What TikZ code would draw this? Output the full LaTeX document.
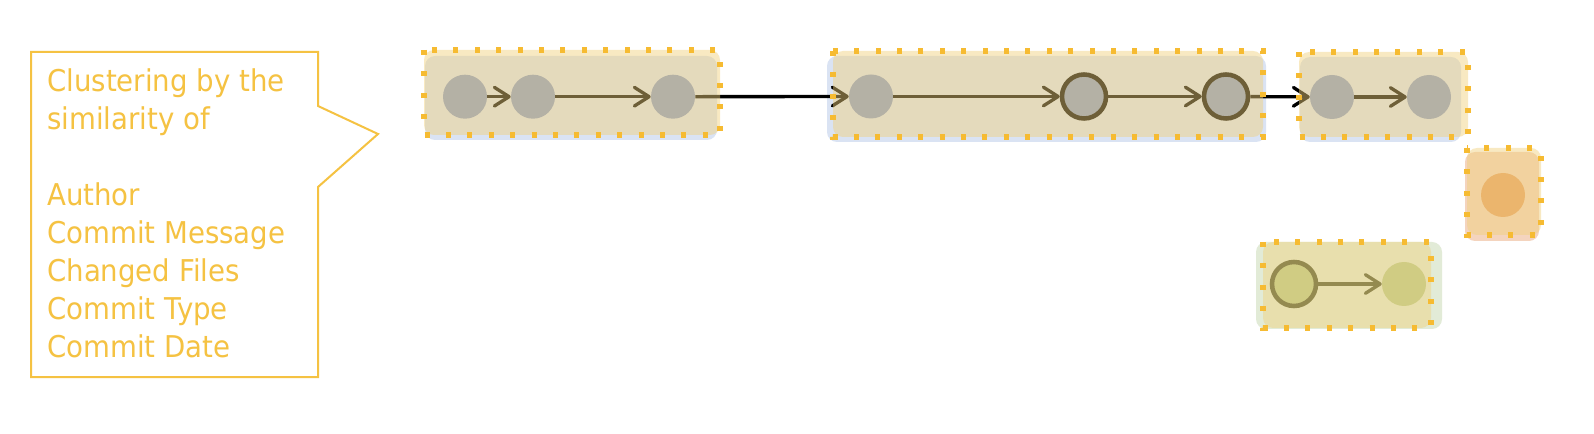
\documentclass[tikz,border=0pt]{standalone}
\usepackage{fontspec}
\newfontfamily\notefont[FakeStretch=0.92]{DejaVu Sans}
\usetikzlibrary{arrows.meta}
\definecolor{noteyellow}{RGB}{245,194,66}
\definecolor{dotyellow}{RGB}{246,187,50}
\definecolor{marktan}{RGB}{241,209,124}
\definecolor{clusterblue}{RGB}{218,227,243}
\definecolor{nodeblue}{RGB}{130,150,200}
\definecolor{clustergreen}{RGB}{226,235,215}
\definecolor{nodegreen}{RGB}{181,201,138}
\definecolor{edgegreen}{RGB}{70,78,43}
\definecolor{clusterorange}{RGB}{244,212,190}
\definecolor{nodeorange}{RGB}{230,159,97}

\begin{document}
\begin{tikzpicture}[x=0.75pt,y=0.75pt,yscale=-1,xscale=1,
  commit/.style={circle,fill=nodeblue,minimum size=33pt,inner sep=0pt},
  merge/.style={commit,draw=black,line width=3.4pt},
  link/.style={line width=2.5pt,-{Straight Barb[length=11pt,width=14pt,line width=2.5pt,round]}},
  cluster/.style={rounded corners=7.5pt},
  highlight/.style={fill=marktan,fill opacity=0.46,rounded corners=7.5pt},
  dots/.style={draw=dotyellow,line width=3.8pt,dash pattern=on 3.8pt off 12.25pt}]
\useasboundingbox (0,0) rectangle (1594,434);
\fill[white] (0,0) rectangle (1594,434);
% callout
\draw[noteyellow,line width=1.5pt] (31,52) -- (318,52) -- (318,106) -- (378,134) -- (318,187) -- (318,377) -- (31,377) -- cycle;
\node (note) [anchor=base west,inner sep=0pt,align=left,text=noteyellow,font=\notefont\fontsize{22.5pt}{28.5pt}\selectfont] at (47,358) {Clustering by the\\similarity of\\[28.5pt]Author\\Commit Message\\Changed Files\\Commit Type\\Commit Date};
% clusters
\fill[clusterblue,cluster] (425,56) rectangle (717,140);
\fill[clusterblue,cluster] (827,56) rectangle (1266,142);
\fill[clusterblue,cluster] (1300,57) rectangle (1461,142);
\fill[clusterorange,cluster] (1465,152) rectangle (1539,241);
\fill[clustergreen,cluster] (1256,242) rectangle (1442,329);
% commits
\node[commit] (a1) at (465,96.7) {};
\node[commit] (a2) at (533,96.7) {};
\node[commit] (a3) at (673,96.7) {};
\node[commit] (b1) at (871,96.5) {};
\node[merge] (b2) at (1084,96.5) {};
\node[merge] (b3) at (1226,96.5) {};
\node[commit] (c1) at (1332,97) {};
\node[commit] (c2) at (1429,97) {};
\node[commit,fill=nodeorange] (d1) at (1503,195) {};
\node[merge,fill=nodegreen,draw=edgegreen] (e1) at (1294,284) {};
\node[commit,fill=nodegreen] (e2) at (1404,284) {};
\draw[link] (a1) -- (a2);
\draw[link] (a2) -- (a3);
\draw[link] (a3) -- (b1);
\draw[link] (b1) -- (b2);
\draw[link] (b2) -- (b3);
\draw[link] (b3) -- (c1);
\draw[link] (c1) -- (c2);
\draw[link,edgegreen] (e1) -- (e2);
% highlighted groups
\fill[highlight] (424,50) rectangle (720,135);
\fill[highlight] (833,51) rectangle (1263,137);
\fill[highlight] (1299,52) rectangle (1468,137);
\fill[highlight] (1467,148) rectangle (1541,235);
\fill[highlight] (1263,242) rectangle (1431,328);
\draw[dots] (424,50) rectangle (720,135);
\draw[dots] (833,51) rectangle (1263,137);
\draw[dots] (1299,52) rectangle (1468,137);
\draw[dots] (1467,148) rectangle (1541,235);
\draw[dots] (1263,242) rectangle (1431,328);
\end{tikzpicture}
\end{document}
